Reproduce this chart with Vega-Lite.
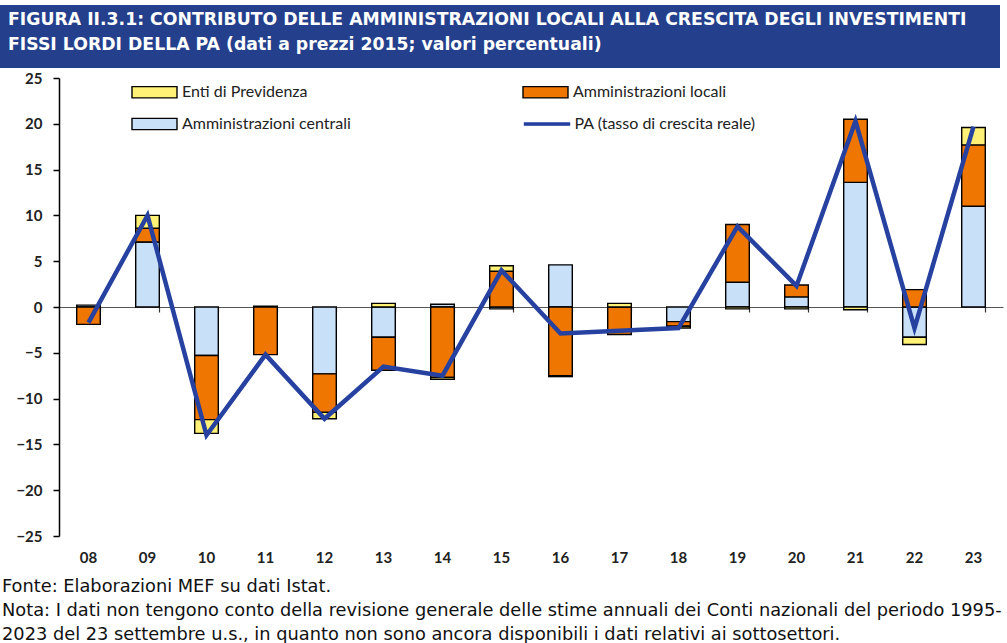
{
  "$schema": "https://vega.github.io/schema/vega-lite/v6.json",
  "padding": {"left": 0, "top": 5, "right": 4, "bottom": 0},
  "background": "white",
  "config": {"view": {"stroke": null}},
  "title": {
    "text": ["Fonte: Elaborazioni MEF su dati Istat.", "Nota: I dati non tengono conto della revisione generale delle stime annuali dei Conti nazionali del periodo 1995-", "2023 del 23 settembre u.s., in quanto non sono ancora disponibili i dati relativi ai sottosettori."],
    "orient": "bottom", "anchor": "start", "frame": "bounds", "baseline": "top",
    "offset": 13, "font": "DejaVu Sans", "fontSize": 17.8, "fontWeight": "normal", "lineHeight": 24, "color": "#111111", "dx": 2
  },
  "spacing": 3,
  "vconcat": [
    {
      "width": 1000, "height": 63,
      "view": {"fill": "#243F8C", "stroke": null},
      "data": {"values": [{"k": 1}]},
      "mark": {"type": "rect", "color": "#243F8C"},
      "title": {
        "text": ["FIGURA II.3.1:  CONTRIBUTO DELLE AMMINISTRAZIONI LOCALI ALLA CRESCITA DEGLI INVESTIMENTI", "FISSI LORDI DELLA PA (dati a prezzi 2015; valori percentuali)"],
        "orient": "top", "anchor": "start", "frame": "group", "offset": -48,
        "font": "DejaVu Sans", "fontSize": 17.3, "fontWeight": "bold", "color": "white", "lineHeight": 25, "dx": 8
      }
    },
    {
      "width": 1003, "height": 458,
      "data": {"values": [
        {"anno": "08", "serie": "Amministrazioni centrali", "valore": 0.2, "ordine": 1},
        {"anno": "08", "serie": "Amministrazioni locali", "valore": -1.9, "ordine": 2},
        {"anno": "08", "serie": "PA (tasso di crescita reale)", "valore": -1.7, "ordine": 4},
        {"anno": "09", "serie": "Amministrazioni centrali", "valore": 7.1, "ordine": 1},
        {"anno": "09", "serie": "Amministrazioni locali", "valore": 1.5, "ordine": 2},
        {"anno": "09", "serie": "Enti di Previdenza", "valore": 1.4, "ordine": 3},
        {"anno": "09", "serie": "PA (tasso di crescita reale)", "valore": 10.0, "ordine": 4},
        {"anno": "10", "serie": "Amministrazioni centrali", "valore": -5.3, "ordine": 1},
        {"anno": "10", "serie": "Amministrazioni locali", "valore": -7.0, "ordine": 2},
        {"anno": "10", "serie": "Enti di Previdenza", "valore": -1.5, "ordine": 3},
        {"anno": "10", "serie": "PA (tasso di crescita reale)", "valore": -14.0, "ordine": 4},
        {"anno": "11", "serie": "Amministrazioni centrali", "valore": 0.1, "ordine": 1},
        {"anno": "11", "serie": "Amministrazioni locali", "valore": -5.2, "ordine": 2},
        {"anno": "11", "serie": "PA (tasso di crescita reale)", "valore": -5.2, "ordine": 4},
        {"anno": "12", "serie": "Amministrazioni centrali", "valore": -7.3, "ordine": 1},
        {"anno": "12", "serie": "Amministrazioni locali", "valore": -4.2, "ordine": 2},
        {"anno": "12", "serie": "Enti di Previdenza", "valore": -0.7, "ordine": 3},
        {"anno": "12", "serie": "PA (tasso di crescita reale)", "valore": -12.2, "ordine": 4},
        {"anno": "13", "serie": "Amministrazioni centrali", "valore": -3.3, "ordine": 1},
        {"anno": "13", "serie": "Amministrazioni locali", "valore": -3.6, "ordine": 2},
        {"anno": "13", "serie": "Enti di Previdenza", "valore": 0.4, "ordine": 3},
        {"anno": "13", "serie": "PA (tasso di crescita reale)", "valore": -6.5, "ordine": 4},
        {"anno": "14", "serie": "Amministrazioni centrali", "valore": 0.3, "ordine": 1},
        {"anno": "14", "serie": "Amministrazioni locali", "valore": -7.7, "ordine": 2},
        {"anno": "14", "serie": "Enti di Previdenza", "valore": -0.2, "ordine": 3},
        {"anno": "14", "serie": "PA (tasso di crescita reale)", "valore": -7.5, "ordine": 4},
        {"anno": "15", "serie": "Amministrazioni centrali", "valore": -0.2, "ordine": 1},
        {"anno": "15", "serie": "Amministrazioni locali", "valore": 3.9, "ordine": 2},
        {"anno": "15", "serie": "Enti di Previdenza", "valore": 0.6, "ordine": 3},
        {"anno": "15", "serie": "PA (tasso di crescita reale)", "valore": 4.0, "ordine": 4},
        {"anno": "16", "serie": "Amministrazioni centrali", "valore": 4.6, "ordine": 1},
        {"anno": "16", "serie": "Amministrazioni locali", "valore": -7.5, "ordine": 2},
        {"anno": "16", "serie": "Enti di Previdenza", "valore": -0.1, "ordine": 3},
        {"anno": "16", "serie": "PA (tasso di crescita reale)", "valore": -2.9, "ordine": 4},
        {"anno": "17", "serie": "Amministrazioni locali", "valore": -3.0, "ordine": 2},
        {"anno": "17", "serie": "Enti di Previdenza", "valore": 0.4, "ordine": 3},
        {"anno": "17", "serie": "PA (tasso di crescita reale)", "valore": -2.6, "ordine": 4},
        {"anno": "18", "serie": "Amministrazioni centrali", "valore": -1.6, "ordine": 1},
        {"anno": "18", "serie": "Amministrazioni locali", "valore": -0.5, "ordine": 2},
        {"anno": "18", "serie": "Enti di Previdenza", "valore": -0.2, "ordine": 3},
        {"anno": "18", "serie": "PA (tasso di crescita reale)", "valore": -2.3, "ordine": 4},
        {"anno": "19", "serie": "Amministrazioni centrali", "valore": 2.7, "ordine": 1},
        {"anno": "19", "serie": "Amministrazioni locali", "valore": 6.3, "ordine": 2},
        {"anno": "19", "serie": "Enti di Previdenza", "valore": -0.2, "ordine": 3},
        {"anno": "19", "serie": "PA (tasso di crescita reale)", "valore": 8.8, "ordine": 4},
        {"anno": "20", "serie": "Amministrazioni centrali", "valore": 1.1, "ordine": 1},
        {"anno": "20", "serie": "Amministrazioni locali", "valore": 1.3, "ordine": 2},
        {"anno": "20", "serie": "Enti di Previdenza", "valore": -0.2, "ordine": 3},
        {"anno": "20", "serie": "PA (tasso di crescita reale)", "valore": 2.3, "ordine": 4},
        {"anno": "21", "serie": "Amministrazioni centrali", "valore": 13.6, "ordine": 1},
        {"anno": "21", "serie": "Amministrazioni locali", "valore": 6.9, "ordine": 2},
        {"anno": "21", "serie": "Enti di Previdenza", "valore": -0.3, "ordine": 3},
        {"anno": "21", "serie": "PA (tasso di crescita reale)", "valore": 20.3, "ordine": 4},
        {"anno": "22", "serie": "Amministrazioni centrali", "valore": -3.3, "ordine": 1},
        {"anno": "22", "serie": "Amministrazioni locali", "valore": 1.9, "ordine": 2},
        {"anno": "22", "serie": "Enti di Previdenza", "valore": -0.8, "ordine": 3},
        {"anno": "22", "serie": "PA (tasso di crescita reale)", "valore": -2.3, "ordine": 4},
        {"anno": "23", "serie": "Amministrazioni centrali", "valore": 11.0, "ordine": 1},
        {"anno": "23", "serie": "Amministrazioni locali", "valore": 6.7, "ordine": 2},
        {"anno": "23", "serie": "Enti di Previdenza", "valore": 1.9, "ordine": 3},
        {"anno": "23", "serie": "PA (tasso di crescita reale)", "valore": 19.7, "ordine": 4}
      ]},
      "resolve": {"axis": {"x": "independent"}, "scale": {"color": "independent"}},
      "layer": [
        {
          "transform": [{"filter": "datum.serie !== 'PA (tasso di crescita reale)'"}],
          "mark": {"type": "bar", "stroke": "#000000", "strokeWidth": 1.4},
          "encoding": {
            "x": {"field": "anno", "type": "ordinal", "sort": null,
              "scale": {"range": [59, 1003], "paddingInner": 0.6, "paddingOuter": 0.3},
              "axis": {"orient": "bottom", "title": null, "domain": false, "ticks": false, "labelAngle": 0,
                "labelFont": "Lato", "labelFontSize": 15, "labelFontWeight": "bold", "labelColor": "#222222", "labelPadding": 14}},
            "y": {"field": "valore", "type": "quantitative", "stack": "zero",
              "scale": {"domain": [-25, 25], "nice": false, "zero": false},
              "axis": {"title": null, "offset": -59, "values": [-25, -20, -15, -10, -5, 0, 5, 10, 15, 20, 25], "grid": false,
                "domainColor": "#000000", "domainWidth": 1.5, "tickColor": "#000000", "tickWidth": 1.5, "tickSize": 6,
                "labelFont": "Lato", "labelFontSize": 15, "labelFontWeight": "bold", "labelColor": "#222222", "labelPadding": 11}},
            "color": {"field": "serie", "type": "nominal",
              "scale": {"domain": ["Enti di Previdenza", "Amministrazioni locali", "Amministrazioni centrali"],
                "range": ["#FFF176", "#EF7600", "#C8E0F8"]},
              "legend": {"title": null, "orient": "none", "legendX": 142.5, "legendY": 2, "columns": 2, "direction": "horizontal",
                "columnPadding": 168, "rowPadding": 11,
                "labelFont": "Lato", "labelFontSize": 16, "labelColor": "#222222", "labelOffset": 15.5, "labelLimit": 400,
                "symbolType": "M-2,-0.5H2V0.5H-2Z", "symbolSize": 506.25, "symbolStrokeWidth": 1.4, "symbolStrokeColor": "#000000", "padding": 0,
                "encode": {"symbols": {"update": {"stroke": {"value": "#000000"}, "strokeWidth": {"value": 1.4}}}}}},
            "order": {"field": "ordine", "type": "quantitative"}
          }
        },
        {
          "transform": [{"filter": "datum.serie === 'PA (tasso di crescita reale)'"}],
          "mark": {"type": "line", "strokeWidth": 4.5, "strokeJoin": "miter"},
          "encoding": {
            "x": {"field": "anno", "type": "ordinal", "sort": null,
              "axis": {"orient": "top", "offset": -229, "title": null, "labels": false, "domain": true, "ticks": true, "tickBand": "extent",
                "domainColor": "#555555", "domainWidth": 1.2, "tickColor": "#333333", "tickWidth": 1.2, "tickSize": -5}},
            "y": {"field": "valore", "type": "quantitative"},
            "color": {"field": "serie", "type": "nominal",
              "scale": {"domain": ["PA (tasso di crescita reale)"], "range": ["#2641A0"]},
              "legend": {"title": null, "orient": "none", "legendX": 535, "legendY": 34, "padding": 0,
                "labelFont": "Lato", "labelFontSize": 16, "labelColor": "#222222", "labelOffset": 15.5, "labelLimit": 400,
                "symbolType": "M-2,-0.1H2V0.1H-2Z", "symbolSize": 506.25, "symbolStrokeWidth": 1.4, "symbolStrokeColor": "#2641A0", "symbolFillColor": "#2641A0",
                "encode": {"symbols": {"update": {"fill": {"value": "#2641A0"}, "stroke": {"value": "#2641A0"}, "strokeWidth": {"value": 1.4}}}}}}
          }
        }
      ]
    }
  ]
}
